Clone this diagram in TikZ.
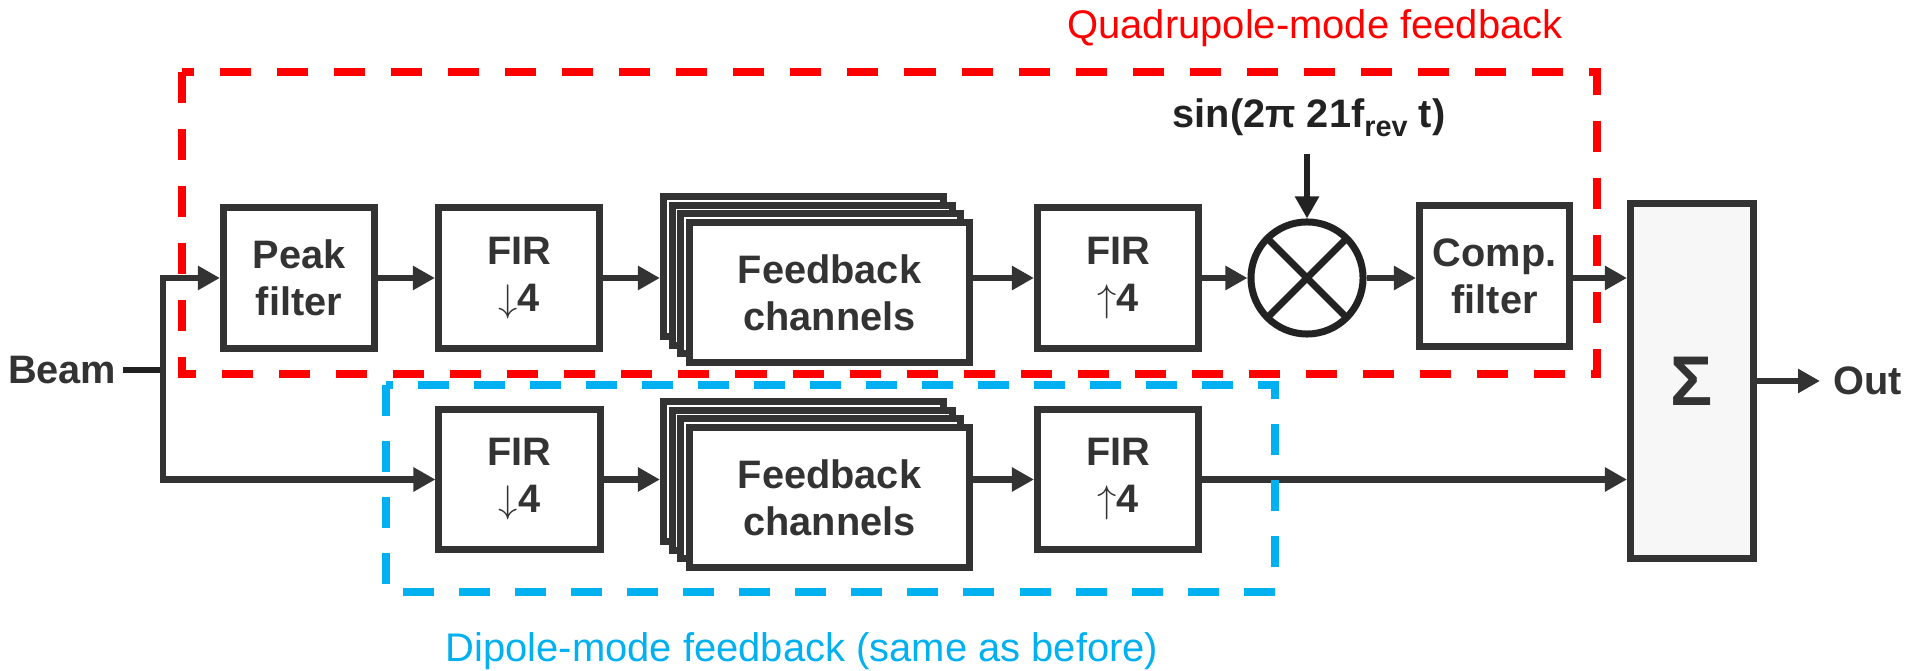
\documentclass[tikz,border=0pt]{standalone}
\usepackage{fontspec}
\setmainfont{Liberation Sans}
\usetikzlibrary{arrows.meta}
\definecolor{boxgray}{HTML}{333333}
\definecolor{mixblack}{HTML}{222222}
\definecolor{quadred}{HTML}{FF0000}
\definecolor{dipblue}{HTML}{00B0F0}
\definecolor{sumfill}{HTML}{F7F7F7}

\begin{document}
\begin{tikzpicture}[x=0.01cm, y=-0.01cm,
    blk/.style={draw=boxgray, fill=white, line width=0.07cm, inner sep=0pt, align=center, text=boxgray,
        minimum height=1.40cm, font=\bfseries\fontsize{11.3}{13.4}\selectfont},
    chanbox/.style={blk, minimum width=2.80cm},
    lbl/.style={inner sep=0pt, text=boxgray, font=\bfseries\fontsize{11.3}{13.4}\selectfont},
    flow/.style={draw=boxgray, line width=0.065cm, -{Triangle[length=0.22cm, width=0.23cm]}},
    wire/.style={draw=mixblack, line width=0.065cm},
    mixline/.style={draw=mixblack, line width=0.07cm, shorten <=0.04cm, shorten >=0.04cm},
    quadframe/.style={draw=quadred, line width=0.08cm, dash pattern=on 0.31cm off 0.26cm},
    dipframe/.style={draw=dipblue, line width=0.08cm, dash pattern=on 0.31cm off 0.25cm}]

    \useasboundingbox (0,0) rectangle (1907,671);

    \node[lbl, anchor=east] (beam) at (117,370) {Beam};
    \coordinate (split) at (163,370);

    \node[blk, minimum width=1.51cm] (peak) at (299,278) {Peak\\filter};
    \node[blk, minimum width=1.61cm] (fird1) at (519,278) {FIR\\$\downarrow$4};
    \foreach \i in {0,1,2}
        \node[chanbox] (fbt\i) at ({803.5+8.67*\i},{266.5+8.67*\i}) {};
    \node[chanbox] (fbt3) at (829.5,292.5) {Feedback\\channels};
    \node[blk, minimum width=1.61cm] (firu1) at (1118,278) {FIR\\$\uparrow$4};
    \node[circle, draw=mixblack, fill=white, line width=0.07cm, minimum size=1.12cm, inner sep=0pt] (mix) at (1307,278) {};
    \draw[mixline] (mix.45) -- (mix.225);
    \draw[mixline] (mix.135) -- (mix.-45);
    \node[lbl, text=mixblack, anchor=base] (sinlbl) at (1309,128)
        {sin(2π 21f{\fontsize{8.2}{10}\selectfont\raisebox{-0.09cm}{rev}} t)};
    \node[blk, minimum width=1.50cm] (comp) at (1494.5,276) {Comp.\\filter};

    \node[blk, minimum width=1.61cm] (fird2) at (519.5,479.5) {FIR\\$\downarrow$4};
    \foreach \i in {0,1,2}
        \node[chanbox] (fbb\i) at ({803.5+8.67*\i},{471.5+8.67*\i}) {};
    \node[chanbox] (fbb3) at (829.5,497.5) {Feedback\\channels};
    \node[blk, minimum width=1.61cm] (firu2) at (1118,479.5) {FIR\\$\uparrow$4};

    \node[blk, fill=sumfill, minimum width=1.23cm, minimum height=3.55cm,
        font=\bfseries\fontsize{20}{24}\selectfont] (sum) at (1692,381) {Σ};
    \node[lbl, anchor=west] (outlbl) at (1833,381) {Out};

    \draw[wire, shorten <=0.06cm] (beam.east) -- (split);
    \draw[flow] (split) |- (peak.west);
    \draw[flow] (split) |- (fird2.west);

    \draw[flow] (peak.east) -- (fird1.west);
    \draw[flow] (fird1.east) -- (fird1.east -| fbt0.west);
    \draw[flow] (fbt3.east |- firu1.west) -- (firu1.west);
    \draw[flow] (firu1.east) -- (mix.west);
    \draw[flow, draw=mixblack, shorten <=0.16cm] (sinlbl.south -| mix.north) -- (mix.north);
    \draw[flow] (mix.east) -- (mix.east -| comp.west);
    \draw[flow] (comp.east |- mix.east) -- (mix.east -| sum.west);

    \draw[flow] (fird2.east) -- (fird2.east -| fbb0.west);
    \draw[flow] (fbb3.east |- firu2.west) -- (firu2.west);
    \draw[flow] (firu2.east) -- (firu2.east -| sum.west);

    \draw[flow, shorten >=0.13cm] (sum.east) -- (outlbl.west);

    \draw[quadframe] (182,72) rectangle (1597,374);
    \draw[dipframe] (386,385) rectangle (1275,592);

    \node[text=quadred, anchor=base, inner sep=0pt, font=\fontsize{11.36}{13.6}\selectfont] (quadtxt) at (1315,39) {Quadrupole-mode feedback};
    \node[text=dipblue, anchor=base, inner sep=0pt, font=\fontsize{11.36}{13.6}\selectfont] (diptxt) at (802,662) {Dipole-mode feedback (same as before)};
\end{tikzpicture}
\end{document}
